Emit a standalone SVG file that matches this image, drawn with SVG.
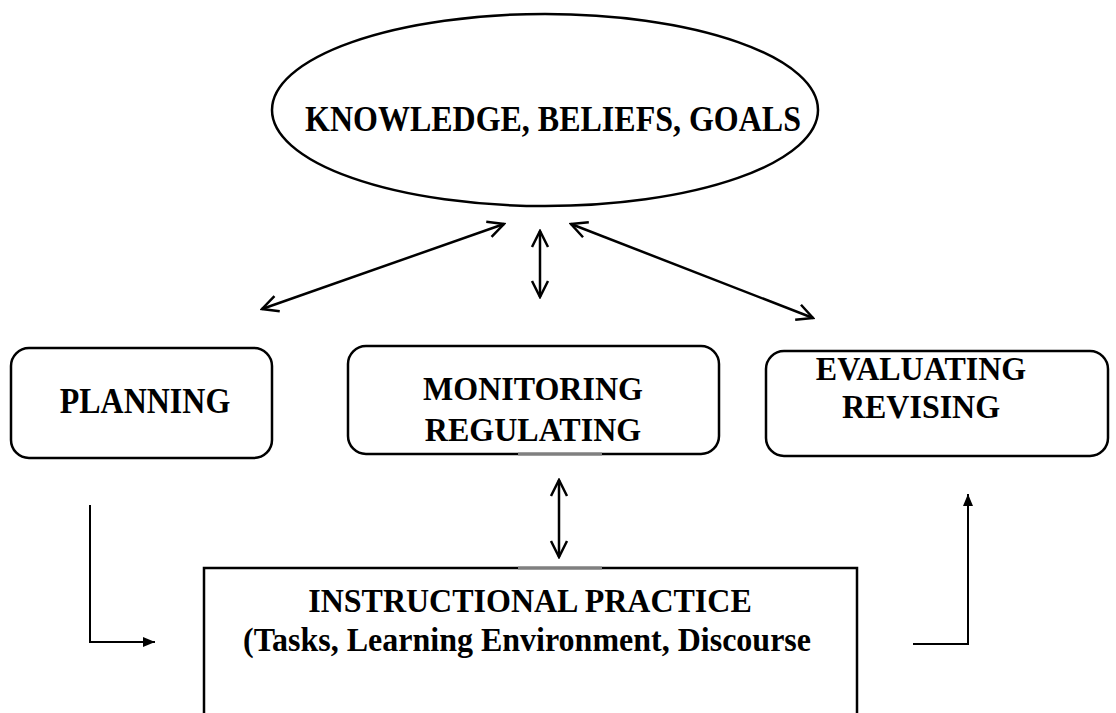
<svg xmlns="http://www.w3.org/2000/svg" width="1116" height="713" viewBox="0 0 1116 713">
<defs>
<style>
.t{font-family:"Liberation Serif","Times New Roman",serif;font-weight:bold;font-size:32px;fill:#000;text-anchor:middle}
.box{fill:#fff;stroke:#000;stroke-width:2.5}
.ln{fill:none;stroke:#000;stroke-width:2.5}
.thin{fill:none;stroke:#000;stroke-width:2}
</style>
<marker id="v" viewBox="0 0 20 20" refX="18" refY="10" markerWidth="20" markerHeight="20" markerUnits="userSpaceOnUse" orient="auto-start-reverse">
<path d="M2,2 L18,10 L2,18" fill="none" stroke="#000" stroke-width="2.5"/>
</marker>
<marker id="tri" viewBox="0 0 12 10" refX="12" refY="5" markerWidth="12" markerHeight="10" markerUnits="userSpaceOnUse" orient="auto">
<path d="M0,0 L12,5 L0,10 Z" fill="#000"/>
</marker>
</defs>
<rect width="1116" height="713" fill="#fff"/>
<g id="knowledge">
<ellipse cx="545" cy="110" rx="273" ry="96" fill="#fff" stroke="#000" stroke-width="2.5"/>
<text class="t" transform="translate(553,131) scale(1,1.15)">KNOWLEDGE, BELIEFS, GOALS</text>
</g>
<g id="planning">
<rect class="box" x="11" y="348" width="261" height="110" rx="18"/>
<text class="t" transform="translate(145,413) scale(1,1.15)">PLANNING</text>
</g>
<g id="monitoring">
<rect class="box" x="348" y="346" width="371" height="108" rx="18"/>
<text class="t" transform="translate(533,400) scale(1,1.08)">MONITORING</text>
<text class="t" transform="translate(533,441) scale(1,1.08)">REGULATING</text>
</g>
<g id="evaluating">
<rect class="box" x="766" y="351" width="342" height="105" rx="18"/>
<text class="t" transform="translate(921,380) scale(1,1.08)">EVALUATING</text>
<text class="t" transform="translate(921,418) scale(1,1.08)">REVISING</text>
</g>
<g id="instructional">
<rect class="box" x="204" y="568" width="653" height="160"/>
<text class="t" transform="translate(530,612) scale(1,1.08)">INSTRUCTIONAL PRACTICE</text>
<text class="t" transform="translate(527,651) scale(1,1.08)">(Tasks, Learning Environment, Discourse</text>
<line x1="518" y1="454" x2="602" y2="454" stroke="#808080" stroke-width="3"/>
<line x1="518" y1="568" x2="602" y2="568" stroke="#808080" stroke-width="3"/>
</g>
<g id="connectors">
<line class="ln" x1="262" y1="309" x2="504" y2="224" marker-start="url(#v)" marker-end="url(#v)"/>
<line class="ln" x1="540" y1="231" x2="540" y2="297" marker-start="url(#v)" marker-end="url(#v)"/>
<line class="ln" x1="571" y1="224" x2="813" y2="318" marker-start="url(#v)" marker-end="url(#v)"/>
<line class="ln" x1="559" y1="480" x2="559" y2="557" marker-start="url(#v)" marker-end="url(#v)"/>
<path class="thin" d="M90,505 L90,642 L155,642" marker-end="url(#tri)"/>
<path class="thin" d="M913,644 L968,644 L968,494" marker-end="url(#tri)"/>
</g>
</svg>
